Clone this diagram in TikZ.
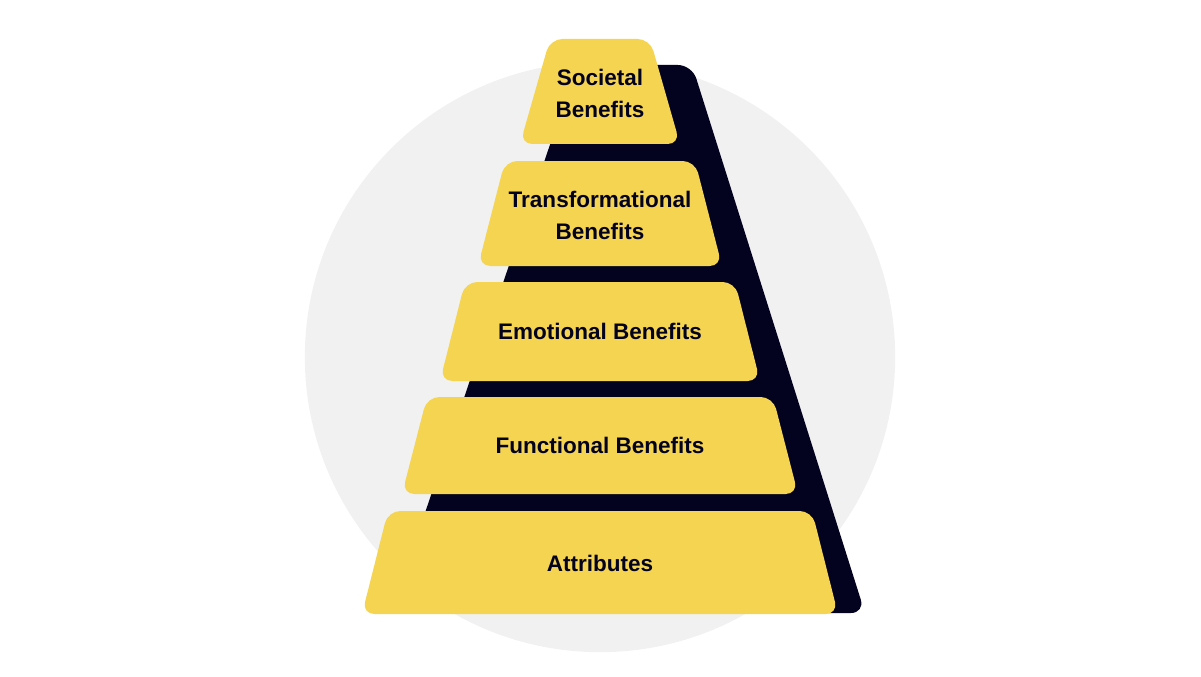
\documentclass[tikz,border=0pt]{standalone}
\usepackage{fontspec}
\setmainfont{Liberation Sans}
\definecolor{discgrey}{HTML}{F1F1F1}
\definecolor{tieryellow}{HTML}{F5D452}
\definecolor{tiernavy}{HTML}{03031F}
\tikzset{
  tier/.style={fill=tieryellow, rounded corners=3.5pt},
  tiertext/.style={text=tiernavy, align=center, font=\bfseries\fontsize{6.4}{9.1}\selectfont},
}

\begin{document}
\begin{tikzpicture}[x=0.01cm, y=-0.01cm]
\useasboundingbox (0, 0) rectangle (1201, 676);

\fill [discgrey] (600, 357) circle [radius=2.95cm];
\fill [tiernavy, rounded corners=4pt] (577, 65) -- (692, 65) -- (865, 613) -- (391, 613) -- cycle;

\fill [tier] (550, 39) -- (650, 39) -- (680, 144) -- (520, 144) -- cycle;
\fill [tier] (505, 161) -- (695, 161) -- (722, 266) -- (478, 266) -- cycle;
\fill [tier] (465, 282) -- (735, 282) -- (760, 381) -- (440, 381) -- cycle;
\fill [tier] (427, 397) -- (773, 397) -- (798, 494) -- (402, 494) -- cycle;
\fill [tier] (388, 511) -- (812, 511) -- (838, 614) -- (362, 614) -- cycle;

\node (societal) [tiertext] at (600, 93) {Societal\\Benefits};
\node (transformational) [tiertext] at (600, 215) {Transformational\\Benefits};
\node (emotional) [tiertext] at (600, 331) {Emotional Benefits};
\node (functional) [tiertext] at (600, 445) {Functional Benefits};
\node (attributes) [tiertext] at (600, 563) {Attributes};
\end{tikzpicture}
\end{document}
